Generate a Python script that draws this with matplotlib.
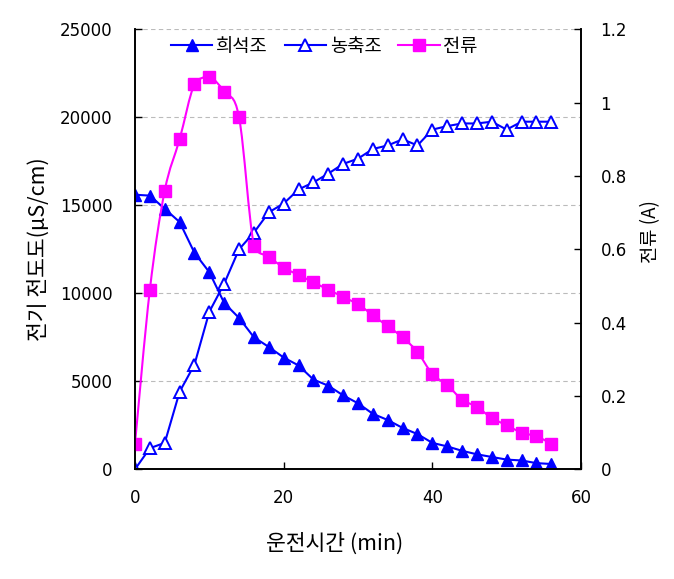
import matplotlib.pyplot as plt
from matplotlib.path import Path
from matplotlib.patches import PathPatch
from matplotlib.lines import Line2D

plt.rcParams['font.family'] = ['Noto Sans CJK KR', 'DejaVu Sans']

# 운전시간 (min)
time_min = [0, 2, 4, 6, 8, 10, 12, 14, 16, 18, 20, 22, 24, 26, 28,
            30, 32, 34, 36, 38, 40, 42, 44, 46, 48, 50, 52, 54, 56]

# 희석조 전기 전도도 (uS/cm)
dilute = [15600, 15550, 14800, 14050, 12300, 11200, 9450, 8600, 7500, 6950,
          6350, 5900, 5100, 4750, 4200, 3750, 3150, 2800, 2350, 2000,
          1500, 1300, 1050, 850, 700, 550, 500, 350, 300]

# 농축조 전기 전도도 (uS/cm)
concentrate = [0, 1200, 1500, 4400, 5950, 8950, 10550, 12500, 13450, 14600,
               15100, 15900, 16300, 16800, 17350, 17650, 18200, 18400, 18750, 18400,
               19300, 19500, 19650, 19650, 19750, 19300, 19750, 19750, 19750]

# 전류 (A)
current = [0.07, 0.49, 0.76, 0.90, 1.05, 1.07, 1.03, 0.96, 0.61, 0.58,
           0.55, 0.53, 0.51, 0.49, 0.47, 0.45, 0.42, 0.39, 0.36, 0.32,
           0.26, 0.23, 0.19, 0.17, 0.14, 0.12, 0.10, 0.09, 0.07]

BLUE = '#0000FF'
MAGENTA = '#FF00FF'


def clamp(v, a, b):
    lo, hi = min(a, b), max(a, b)
    return max(lo, min(hi, v))


def smooth_path(xs, ys):
    # bezier through the points like an excel smoothed line, no overshoot
    pts = list(zip(xs, ys))
    verts = [pts[0]]
    codes = [Path.MOVETO]
    n = len(pts)
    for i in range(n - 1):
        p0 = pts[i - 1] if i > 0 else pts[i]
        p1 = pts[i]
        p2 = pts[i + 1]
        p3 = pts[i + 2] if i + 2 < n else pts[i + 1]
        c1y = clamp(p1[1] + (p2[1] - p0[1]) / 6, p1[1], p2[1])
        c2y = clamp(p2[1] - (p3[1] - p1[1]) / 6, p1[1], p2[1])
        c1 = (p1[0] + (p2[0] - p0[0]) / 6, c1y)
        c2 = (p2[0] - (p3[0] - p1[0]) / 6, c2y)
        verts += [c1, c2, p2]
        codes += [Path.CURVE4] * 3
    return Path(verts, codes)


fig = plt.figure(figsize=(6.74, 5.79), dpi=100)
ax = fig.add_axes([0.2003, 0.1895, 0.6617, 0.7599])
ax2 = ax.twinx()

ax.plot(time_min, dilute, color=BLUE, lw=1.5, marker='^', ms=8,
        mfc=BLUE, mec=BLUE, label='희석조')
ax.plot(time_min, concentrate, color=BLUE, lw=1.5, marker='^', ms=8,
        mfc='white', mec=BLUE, mew=1.4, label='농축조')

ax2.add_patch(PathPatch(smooth_path(time_min, current), fill=False,
                        edgecolor=MAGENTA, lw=1.5))
ax2.plot(time_min, current, ls='none', marker='s', ms=8.5,
         mfc=MAGENTA, mec=MAGENTA)

ax.set_xlim(0, 60)
ax.set_ylim(0, 25000)
ax2.set_ylim(0, 1.2)
ax.set_xticks([0, 20, 40, 60])
ax.set_yticks(range(0, 25001, 5000))
ax2.set_yticks([0, 0.2, 0.4, 0.6, 0.8, 1.0, 1.2])
ax2.set_yticklabels(['0', '0.2', '0.4', '0.6', '0.8', '1', '1.2'])

ax.yaxis.grid(True, ls=(0, (4, 3)), color='#BBBBBB', lw=0.8)
ax.set_axisbelow(True)

for a in (ax, ax2):
    a.spines['top'].set_visible(False)
    a.spines['left'].set_linewidth(1.2)
    a.spines['right'].set_linewidth(1.2)
    a.spines['bottom'].set_linewidth(1.2)

ax.tick_params(axis='x', direction='in', length=5, width=1, pad=14)
ax.tick_params(axis='y', direction='in', length=5, width=1, pad=16)
ax2.tick_params(axis='y', direction='in', length=5, width=1, pad=14)
for lbl in ax.get_xticklabels() + ax.get_yticklabels() + ax2.get_yticklabels():
    lbl.set_fontfamily('DejaVu Sans')
    lbl.set_fontsize(12)

ax.set_xlabel('운전시간 (min)', fontsize=15.5)
ax.xaxis.set_label_coords(0.448, -0.143)
ax.set_ylabel('전기 전도도(μS/cm)', fontsize=15.5)
ax.yaxis.set_label_coords(-0.19, 0.5)
ax2.set_ylabel('전류 (A)', fontsize=13.5, rotation=90)
ax2.yaxis.set_label_coords(1.132, 0.54)

handles = [
    Line2D([], [], color=BLUE, lw=1.5, marker='^', ms=8, mfc=BLUE, mec=BLUE),
    Line2D([], [], color=BLUE, lw=1.5, marker='^', ms=8, mfc='white', mec=BLUE, mew=1.4),
    Line2D([], [], color=MAGENTA, lw=1.5, marker='s', ms=8.5, mfc=MAGENTA, mec=MAGENTA),
]
ax2.legend(handles, ['희석조', '농축조', '전류'], loc='center left',
           bbox_to_anchor=(0.06, 0.962), ncol=3, frameon=False, fontsize=13.5,
           handlelength=2.2, handletextpad=0.2, columnspacing=0.9, borderpad=0)

fig.savefig('out.png', dpi=100)
